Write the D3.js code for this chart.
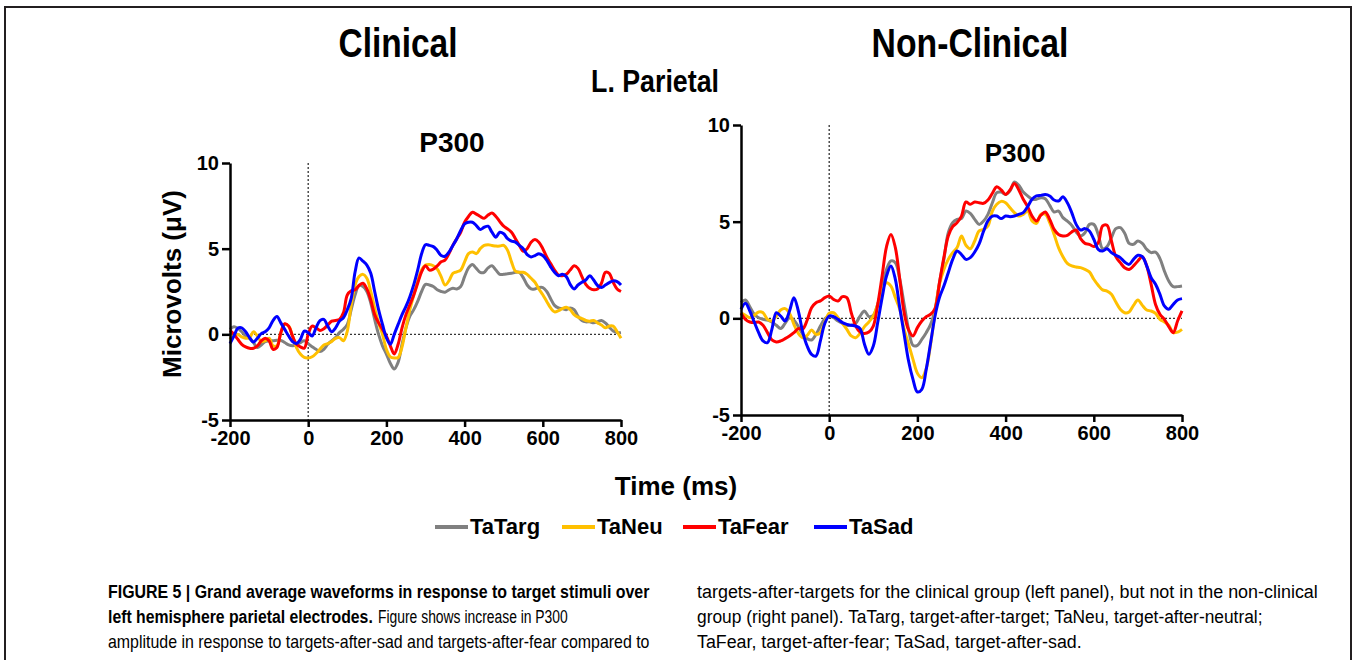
<!DOCTYPE html>
<html>
<head>
<meta charset="utf-8">
<title>Figure 5 - L. Parietal P300</title>
<style>
    body { margin: 0; background: #ffffff; }
    svg text { fill: #000; }
    .bold { font-family: "Liberation Sans", Arial, sans-serif; font-weight: bold; }
    .narrow { font-family: "Liberation Sans Narrow", "Arial Narrow", "Liberation Sans", sans-serif; }
</style>
</head>
<body>
<svg id="fig" width="1355" height="660"></svg>
<script src="https://d3js.org/d3.v7.min.js"></script>
<script>

// time axis (ms), one sample every 10 ms
const times = d3.range(-200, 801, 10);

// Clinical group, microvolts
const clinTarg = [0.29, 0.44, 0.35, 0.15, -0.1, -0.23, -0.48, -0.77, -0.62, -0.42,
    -0.38, -0.38, -0.35, -0.35, -0.48, -0.62, -0.67, -0.62, -0.48, -0.38,
    -0.54, -0.73, -0.87, -1.0, -0.87, -0.58, -0.38, -0.19, 0.1, 0.29,
    0.58, 1.44, 2.31, 2.85, 2.79, 2.5, 1.83, 0.87, 0, -0.67,
    -1.15, -1.69, -2.02, -1.63, -0.58, 0.38, 1.06, 1.44, 1.92, 2.5,
    2.92, 2.88, 2.79, 2.6, 2.5, 2.46, 2.6, 2.69, 2.65, 2.79,
    3.37, 3.88, 4.08, 3.85, 3.62, 3.62, 3.88, 4.0, 3.75, 3.5,
    3.5, 3.54, 3.56, 3.62, 3.62, 3.31, 2.88, 2.65, 2.65, 2.73,
    2.73, 2.5, 2.08, 1.69, 1.54, 1.5, 1.44, 1.54, 1.44, 1.06,
    0.81, 0.73, 0.73, 0.67, 0.73, 0.81, 0.67, 0.42, 0.19, 0.1,
    0.1];
const clinNeu = [-0.29, 0, 0, -0.15, -0.23, -0.19, 0.15, -0.1, -0.42, -0.38,
    -0.23, -0.67, -0.67, 0.1, 0.58, 0.48, -0.1, -0.77, -1.15, -1.35,
    -1.38, -1.31, -1.12, -0.87, -0.62, -0.54, -0.42, -0.23, -0.19, -0.38,
    0.19, 1.73, 2.88, 3.37, 3.5, 3.27, 2.5, 1.54, 0.67, 0,
    -0.87, -1.31, -1.38, -1.35, -0.73, 0.38, 1.44, 2.3, 3.08, 3.75,
    4.04, 4.08, 4.0, 3.81, 3.37, 2.88, 3.12, 3.56, 3.65, 3.75,
    4.23, 4.71, 4.81, 4.71, 5.0, 5.19, 5.23, 5.19, 5.15, 5.15,
    5.19, 4.9, 4.23, 3.69, 3.62, 3.62, 3.5, 3.27, 3.04, 2.65,
    2.31, 1.92, 1.54, 1.31, 1.38, 1.5, 1.58, 1.44, 1.15, 1.0,
    0.92, 0.81, 0.77, 0.81, 0.67, 0.54, 0.38, 0.48, 0.48, 0.15,
    -0.23];
const clinFear = [0.23, 0, -0.29, -0.58, -0.73, -0.81, -0.81, -0.67, -0.38, -0.23,
    -0.38, -0.87, -0.77, 0.1, 0.62, 0.48, -0.1, -0.58, -0.73, -0.81,
    0, 0.48, 0.38, 0.23, 0.33, 0.54, 0.77, 0.81, 0.87, 1.25,
    2.3, 2.54, 2.6, 2.85, 2.98, 2.65, 2.0, 1.15, 0.67, 0.29,
    -0.1, -0.67, -1.15, -0.58, 0.38, 1.15, 1.73, 2.3, 2.98, 3.65,
    4.0, 3.75, 3.81, 4.0, 4.23, 4.33, 4.71, 5.19, 5.58, 5.96,
    6.54, 6.88, 7.12, 7.02, 6.88, 6.77, 6.96, 7.08, 6.88, 6.58,
    6.31, 6.15, 5.96, 5.58, 5.19, 4.85, 5.0, 5.38, 5.54, 5.38,
    5.0, 4.52, 4.13, 3.75, 3.46, 3.42, 3.5, 3.75, 4.0, 3.85,
    3.37, 2.92, 2.69, 2.6, 2.65, 2.98, 3.62, 3.56, 3.04, 2.65,
    2.5];
const clinSad = [-0.54, -0.1, 0.35, 0.38, 0.15, -0.2, -0.45, -0.23, 0.04, 0.15,
    0.38, 0.8, 1.04, 0.67, 0.29, -0.1, -0.42, -0.54, -0.29, 0.19,
    0.1, -0.1, 0.38, 0.8, 0.87, 0.48, 0.15, 0.38, 0.77, 0.96,
    1.44, 2.1, 3.65, 4.46, 4.27, 4.04, 3.56, 2.5, 1.44, 0.58,
    -0.19, -0.58, 0, 0.58, 1.15, 1.63, 2.2, 2.9, 3.75, 4.7,
    5.23, 5.19, 5.12, 4.9, 4.6, 4.56, 4.8, 5.19, 5.58, 6.06,
    6.44, 6.54, 6.54, 6.35, 6.12, 6.25, 6.31, 5.96, 5.67, 5.96,
    5.87, 5.58, 5.44, 5.38, 5.19, 5.0, 4.65, 4.52, 4.6, 4.71,
    4.6, 4.33, 3.94, 3.62, 3.42, 3.5, 3.37, 2.92, 2.65, 2.88,
    3.04, 3.17, 3.42, 3.17, 2.85, 2.73, 2.88, 3.02, 3.12, 3.08,
    2.88];

// Non-clinical group, microvolts
const nonTarg = [0.81, 0.95, 0.6, 0.21, 0.03, -0.05, -0.09, -0.19, -0.36, -0.53,
    -0.26, 0.03, -0.09, -0.43, -0.83, -1.05, -1.12, -0.83, -0.4, -0.02,
    0.12, 0.03, -0.14, -0.26, -0.36, -0.36, -0.26, 0.12, 0.38, 0.09,
    0.16, 0.72, 1.67, 2.53, 2.97, 2.88, 2.02, 0.72, -0.57, -1.4,
    -1.4, -1.09, -0.74, -0.31, 0.47, 1.84, 3.05, 4.43, 4.95, 5.12,
    5.16, 5.55, 5.43, 5.12, 4.86, 5.03, 5.38, 5.98, 6.5, 6.53,
    6.41, 6.59, 7.05, 6.88, 6.53, 6.33, 6.16, 6.16, 6.24, 6.19,
    5.84, 5.5, 5.55, 5.21, 5.03, 4.81, 4.47, 4.26, 4.43, 4.86,
    4.86, 4.34, 3.6, 3.71, 4.17, 4.64, 4.69, 4.4, 3.88, 3.83,
    4.0, 3.88, 3.57, 3.4, 3.43, 3.09, 2.45, 1.93, 1.64, 1.64,
    1.67];
const nonNeu = [0.29, 0.16, 0.03, 0.16, 0.33, 0.29, -0.05, -0.14, 0.12, 0.43,
    0.5, 0.26, -0.31, -0.78, -1.0, -0.88, -0.6, -0.83, -0.74, -0.19,
    0.26, 0.29, 0.03, -0.26, -0.57, -0.91, -1.0, -0.78, -0.43, -0.19,
    0.12, 0.72, 1.5, 1.84, 1.67, 1.07, 0.47, -0.57, -1.34, -2.12,
    -2.84, -3.07, -2.6, -1.34, 0.3, 1.76, 2.53, 3.05, 3.4, 3.66,
    4.26, 3.78, 3.6, 4.0, 4.52, 4.6, 4.78, 5.55, 5.9, 6.05,
    5.98, 5.72, 5.47, 5.29, 5.38, 5.55, 5.03, 4.91, 5.38, 5.38,
    4.95, 4.34, 3.66, 3.19, 2.84, 2.71, 2.66, 2.62, 2.53, 2.4,
    2.02, 1.71, 1.47, 1.41, 1.24, 0.84, 0.47, 0.29, 0.33, 0.67,
    0.95, 0.67, 0.43, 0.38, 0.26, -0.05, -0.19, -0.36, -0.74, -0.71,
    -0.57];
const nonFear = [0.26, -0.05, -0.19, -0.22, -0.19, -0.36, -0.74, -1.12, -1.22, -1.17,
    -1.05, -0.91, -0.74, -0.53, -0.55, -0.1, 0.55, 0.81, 0.9, 1.07,
    1.16, 0.98, 0.9, 1.12, 1.07, 0.29, -0.4, -0.71, -0.78, -0.71,
    -0.4, 0.72, 2.19, 3.71, 4.34, 3.66, 2.02, 0.29, -0.6, -0.91,
    -0.48, -0.14, 0.09, 0.21, 0.5, 1.84, 3.14, 4.26, 4.74, 4.95,
    5.29, 6.02, 5.9, 6.02, 5.98, 5.95, 6.12, 6.47, 6.81, 6.64,
    6.41, 6.64, 6.98, 6.64, 6.16, 5.78, 5.29, 5.03, 5.33, 5.5,
    5.12, 4.6, 4.34, 4.26, 4.29, 4.47, 4.57, 4.12, 3.88, 3.83,
    3.71, 3.91, 4.78, 4.81, 4.0, 3.19, 2.88, 2.62, 2.53, 2.71,
    2.97, 3.19, 2.71, 1.76, 0.72, 0.21, -0.05, -0.43, -0.74, -0.14,
    0.38];
const nonSad = [0.47, 0.78, 0.38, -0.19, -0.74, -1.17, -1.26, -0.57, 0.29, 0.12,
    -0.14, 0.38, 1.07, 0.38, -0.71, -1.43, -1.86, -1.95, -1.17, -0.26,
    0.12, 0.09, -0.05, -0.22, -0.31, -0.36, -0.4, -0.53, -1.34, -1.86,
    -1.43, -0.22, 1.07, 2.19, 2.71, 2.02, 0.55, -0.83, -2.21, -3.16,
    -3.81, -3.67, -2.64, -1.26, 0.12, 1.07, 1.67, 2.36, 3.05, 3.48,
    3.3, 3.05, 3.14, 3.43, 3.85, 4.5, 5.05, 5.29, 5.29, 5.16,
    5.29, 5.26, 5.29, 5.38, 5.47, 5.78, 6.16, 6.33, 6.36, 6.4,
    6.33, 6.12, 6.07, 6.29, 5.98, 5.47, 4.86, 4.57, 4.64, 4.52,
    4.09, 3.57, 3.48, 3.6, 3.4, 3.26, 3.14, 2.91, 2.79, 3.05,
    3.26, 3.19, 2.71, 2.1, 1.76, 1.24, 0.64, 0.47, 0.72, 0.95,
    1.02];

const seriesNames = ["TaTarg", "TaNeu", "TaFear", "TaSad"];
const seriesColors = ["#808080", "#ffc000", "#ff0000", "#0000ff"];
const yTicks = [-5, 0, 5, 10];
const xTicks = [-200, 0, 200, 400, 600, 800];

const svg = d3.select("#fig");

// outer frame of the figure
svg.append("rect")
    .attr("x", 5).attr("y", 7)
    .attr("width", 1346).attr("height", 700)
    .attr("fill", "none").attr("stroke", "#231f20").attr("stroke-width", 2);

// the printed figure uses a condensed face: squeeze the text horizontally
// to the width it has there (scale, so the real box shrinks too)
function fitWidth(sel, w) {
    const node = sel.node();
    const len = node.getComputedTextLength();
    const x = +sel.attr("x"), y = +sel.attr("y");
    sel.attr("x", 0).attr("y", 0)
        .attr("transform", "translate(" + x + "," + y + ") scale(" + (w / len) + ",1)");
}

function drawPanel(series, xRange, yRange, title, titleX, titleY, titleSize) {
    const x = d3.scaleLinear().domain([-200, 800]).range(xRange);
    const y = d3.scaleLinear().domain([-5, 10]).range(yRange);
    const g = svg.append("g");

    // dotted reference lines at 0 ms and 0 uV
    g.append("line")
        .attr("x1", x(-200)).attr("x2", x(800))
        .attr("y1", y(0)).attr("y2", y(0))
        .attr("stroke", "#333").attr("stroke-width", 1.3).attr("stroke-dasharray", "2,2");
    g.append("line")
        .attr("x1", x(0)).attr("x2", x(0))
        .attr("y1", y(10)).attr("y2", y(-5))
        .attr("stroke", "#333").attr("stroke-width", 1.3).attr("stroke-dasharray", "2,2");

    const line = d3.line()
        .x((d, i) => x(times[i]))
        .y(d => y(d))
        .curve(d3.curveCatmullRom.alpha(0.5));

    series.forEach((s, i) => {
        g.append("path")
            .datum(s)
            .attr("d", line)
            .attr("fill", "none")
            .attr("stroke", seriesColors[i])
            .attr("stroke-width", 3)
            .attr("stroke-linejoin", "round");
    });

    // plain hyphen for negatives, like the original
    const fmt = d => String(d);
    const ay = g.append("g")
        .attr("transform", "translate(" + xRange[0] + ",0)")
        .call(d3.axisLeft(y).tickValues(yTicks).tickFormat(fmt).tickSize(8).tickSizeOuter(0).tickPadding(3));
    const ax = g.append("g")
        .attr("transform", "translate(0," + yRange[0] + ")")
        .call(d3.axisBottom(x).tickValues(xTicks).tickFormat(fmt).tickSize(7).tickSizeOuter(0).tickPadding(4));

    [ax, ay].forEach(a => {
        a.select(".domain").attr("stroke", "#000").attr("stroke-width", 2.5);
        a.selectAll(".tick line").attr("stroke", "#000").attr("stroke-width", 2.5);
        a.selectAll(".tick text")
            .attr("class", "bold")
            .style("font-size", "20px")
            .attr("fill", "#000");
    });

    g.append("text")
        .attr("class", "bold")
        .attr("x", titleX).attr("y", titleY)
        .attr("text-anchor", "middle")
        .style("font-size", titleSize + "px")
        .text(title);
}

drawPanel([clinTarg, clinNeu, clinFear, clinSad], [230, 621], [420, 163], "P300", 452, 152, 28);
drawPanel([nonTarg, nonNeu, nonFear, nonSad], [741, 1182], [415, 125], "P300", 1015, 162, 26);

// group titles
svg.append("text").attr("class", "narrow")
    .attr("x", 398).attr("y", 57).attr("text-anchor", "middle")
    .style("font-size", "41px").style("font-weight", "bold")
    .text("Clinical").call(fitWidth, 119);
svg.append("text").attr("class", "narrow")
    .attr("x", 970).attr("y", 57).attr("text-anchor", "middle")
    .style("font-size", "41px").style("font-weight", "bold")
    .text("Non-Clinical").call(fitWidth, 197);
svg.append("text").attr("class", "narrow")
    .attr("x", 655).attr("y", 92).attr("text-anchor", "middle")
    .style("font-size", "31px").style("font-weight", "bold")
    .text("L. Parietal").call(fitWidth, 128);

// axis titles
svg.append("text").attr("class", "bold")
    .attr("transform", "translate(181,284) rotate(-90)")
    .attr("text-anchor", "middle")
    .style("font-size", "26px")
    .text("Microvolts (\u03bcV)");
svg.append("text").attr("class", "bold")
    .attr("x", 676).attr("y", 495).attr("text-anchor", "middle")
    .style("font-size", "26px")
    .text("Time (ms)");

// legend
const legendX = [435, 562, 683, 814];
const leg = svg.append("g").selectAll("g")
    .data(seriesNames)
    .join("g")
    .attr("transform", (d, i) => "translate(" + legendX[i] + ",527)");
leg.append("line")
    .attr("x1", 0).attr("x2", 33)
    .attr("stroke", (d, i) => seriesColors[i])
    .attr("stroke-width", 4);
leg.append("text").attr("class", "bold")
    .attr("x", 35).attr("y", 7)
    .style("font-size", "22px")
    .text(d => d);

// caption: [text, bold, x, width, line]
const captionRuns = [
    ["FIGURE 5 | Grand average waveforms in response to target stimuli over", true, 108, 542, 0],
    ["left hemisphere parietal electrodes.", true, 108, 265, 1],
    ["Figure shows increase in P300", false, 378, 190, 1],
    ["amplitude in response to targets-after-sad and targets-after-fear compared to", false, 108, 542, 2],
    ["targets-after-targets for the clinical group (left panel), but not in the non-clinical", false, 697, 621, 0],
    ["group (right panel). TaTarg, target-after-target; TaNeu, target-after-neutral;", false, 697, 566, 1],
    ["TaFear, target-after-fear; TaSad, target-after-sad.", false, 697, 385, 2]
];

captionRuns.forEach(r => {
    svg.append("text").attr("class", "narrow")
        .attr("x", r[2]).attr("y", 598 + r[4] * 25)
        .style("font-size", "19px")
        .style("font-weight", r[1] ? "bold" : "normal")
        .attr("fill", "#231f20")
        .text(r[0])
        .call(fitWidth, r[3]);
});

</script>
</body>
</html>
